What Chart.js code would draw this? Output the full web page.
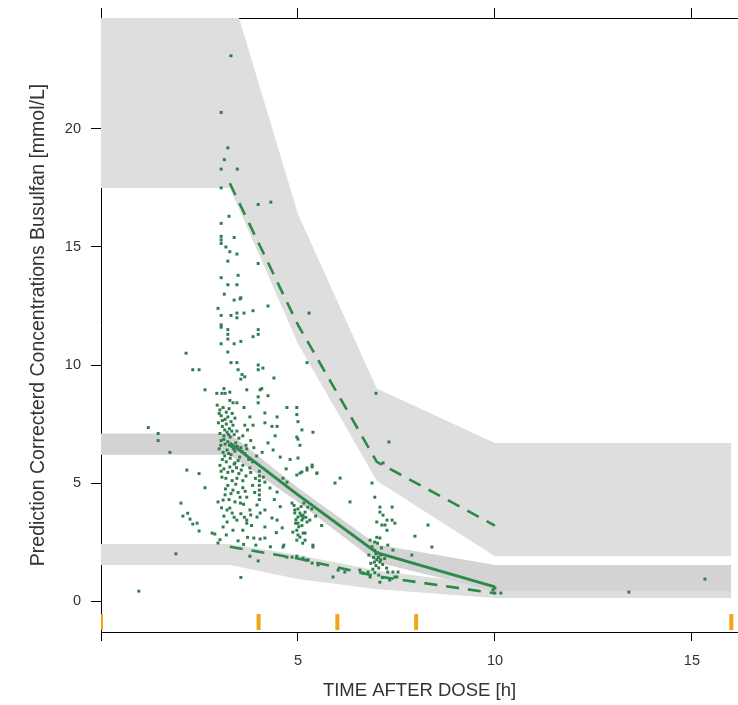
<!DOCTYPE html>
<html>
<head>
<meta charset="utf-8">
<script src="https://cdn.jsdelivr.net/npm/chart.js@4.4.0/dist/chart.umd.min.js"></script>
<style>
  html, body { margin: 0; padding: 0; background: #fff; }
  #wrap { width: 738px; height: 705px; }
</style>
</head>
<body>
<div id="wrap"><canvas id="vpc" width="738" height="705"></canvas></div>
<script>
// ---- VPC data ----
const binEdges = [0, 4, 6, 8, 16];
const binMid = [3.27, 5.0, 7.0, 10.0];

// observed percentiles (lines)
const obsP95 = [17.7, 11.7, 5.9, 3.2];
const obsP50 = [6.7, 4.5, 2.05, 0.6];
const obsP05 = [2.3, 1.8, 1.05, 0.33];

// simulated confidence intervals (grey bands)
const ciP95Hi = [26.0, 16.4, 9.0, 6.7];
const ciP95Lo = [17.5, 10.9, 5.1, 1.9];
const ciP50Hi = [7.1, 4.8, 2.4, 1.53];
const ciP50Lo = [6.2, 4.2, 1.65, 0.42];
const ciP05Hi = [2.42, 1.95, 1.3, 0.65];
const ciP05Lo = [1.53, 0.93, 0.5, 0.13];

const xTicks = [0, 5, 10, 15];
const yTicks = [0, 5, 10, 15, 20];

// prediction corrected observations [time, conc]
const observed = [
  [3.30,23.1],[3.05,20.7],[3.22,19.2],[3.13,18.7],[3.05,18.3],[3.46,18.3],[3.05,17.5],[3.99,16.8],
  [4.31,16.9],[3.25,16.3],[3.05,16.0],[3.05,15.45],[3.05,15.3],[3.38,15.4],[3.05,15.15],[3.17,15.0],
  [3.27,14.8],[3.45,14.7],[3.22,14.4],[3.99,14.3],[3.05,13.7],[3.48,13.8],[3.22,13.4],[3.45,13.4],
  [3.13,13.0],[3.53,12.8],[3.38,12.75],[3.55,12.85],[4.24,12.5],[5.28,12.2],[2.97,12.4],[3.05,12.1],
  [3.30,12.1],[3.45,12.2],[3.45,12.0],[3.63,12.2],[3.86,12.3],[3.05,11.7],[3.05,11.6],[3.22,11.5],
  [3.22,11.3],[3.22,11.1],[3.99,11.5],[3.99,11.3],[3.86,11.2],[3.05,10.9],[3.38,10.9],[3.55,11.0],
  [2.16,10.5],[3.22,10.55],[3.30,10.1],[3.45,10.1],[5.23,10.1],[3.99,10.0],[4.11,9.87],[3.99,9.8],
  [2.33,9.8],[2.49,9.8],[3.48,9.8],[3.58,9.6],[3.55,9.4],[3.65,9.5],[4.39,9.45],[2.64,8.95],
  [2.94,8.8],[3.07,8.8],[3.15,8.8],[3.12,9.0],[3.27,8.85],[3.70,8.95],[4.08,9.0],[4.04,8.95],
  [3.27,8.5],[3.35,8.4],[3.45,8.4],[3.99,8.65],[3.99,8.4],[4.24,8.7],[3.63,8.2],[6.98,8.8],
  [3.78,7.8],[4.16,7.97],[4.47,7.8],[4.72,8.2],[4.97,8.2],[4.97,7.9],[5.0,7.6],[3.65,7.45],
  [3.86,7.45],[4.16,7.55],[4.34,7.4],[4.47,7.4],[5.10,7.25],[5.38,7.15],[1.20,7.35],[1.45,7.1],
  [1.45,6.8],[1.75,6.3],[4.97,6.95],[5.0,6.86],[5.05,6.6],[4.24,6.7],[4.37,6.4],[4.42,7.0],
  [4.09,6.3],[7.31,6.74],[7.16,5.85],[5.0,6.06],[5.23,5.64],[5.36,5.76],[5.05,5.42],[5.48,5.42],
  [5.94,5.0],[6.07,5.21],[6.32,4.2],[6.88,5.0],
  [2.95,8.3],[3.02,8.1],[3.10,8.2],[3.18,8.0],[3.25,8.15],[3.33,7.95],[3.05,7.85],[3.15,7.7],
  [3.22,7.8],[3.30,7.6],[3.40,7.75],[2.98,7.55],[3.08,7.4],[3.18,7.5],[3.26,7.3],[3.35,7.45],
  [3.45,7.2],[3.02,7.1],[3.12,7.0],[3.20,7.15],[3.28,6.95],[3.38,7.05],[3.50,6.9],[3.60,7.0],
  [3.05,6.8],[3.15,6.65],[3.22,6.75],[3.32,6.55],[3.42,6.7],[3.55,6.5],[3.68,6.6],[3.00,6.45],
  [3.10,6.3],[3.20,6.4],[3.30,6.2],[3.40,6.35],[3.52,6.1],[3.65,6.25],[3.75,6.0],[3.08,6.0],
  [3.18,5.9],[3.28,6.05],[3.38,5.8],[3.48,5.95],[3.60,5.75],[3.85,5.9],[3.95,6.15],[3.88,6.5],
  [3.80,6.8],[3.72,7.25],
  [3.00,7.95],[3.08,7.65],[3.14,7.25],[3.24,7.05],[3.32,7.2],[3.12,6.85],[3.26,6.6],[3.36,6.45],
  [3.04,6.6],[3.14,6.15],[3.24,6.25],[3.46,6.55],[3.58,6.35],[3.70,6.45],[3.02,5.75],[3.12,5.6],
  [3.22,5.45],[3.34,5.5],[3.44,5.65],[3.56,5.55],[3.68,5.3],[3.80,5.45],[3.16,4.75],[3.30,4.55],
  [3.42,4.95],[3.54,4.15],[3.66,4.65],[3.06,3.95],[3.38,3.55],[3.20,3.35],[3.64,3.55],[3.80,3.65],
  [2.18,5.55],[2.49,5.4],[2.64,4.8],[2.03,4.15],[2.08,3.6],[2.20,3.72],[2.26,3.47],[2.33,3.26],
  [2.44,3.3],[2.49,2.97],[2.82,2.88],[2.89,2.84],[2.97,2.46],[1.90,2.0],[0.96,0.42],[3.55,1.0],
  [3.78,1.9],[3.99,1.7],
  [3.07,5.25],[3.17,5.2],[3.33,5.1],[3.45,5.2],[3.60,5.1],[3.22,4.9],[3.35,4.7],[3.48,4.6],
  [3.60,4.8],[2.97,4.2],[3.10,4.28],[3.20,3.86],[3.27,3.94],[3.33,3.73],[3.40,4.2],[3.53,4.4],
  [3.70,4.4],[3.45,3.43],[3.70,3.43],[3.70,3.3],[3.10,3.14],[3.35,3.0],[3.60,3.0],[3.88,2.67],
  [4.04,2.63],[4.16,2.67],[3.93,2.37],[3.27,5.68],[3.40,5.85],[3.78,5.64],[4.16,5.04],[4.29,4.79],
  [4.47,4.62],[3.78,3.86],[3.96,4.07],[4.04,3.73],[4.16,3.86],[3.96,3.56],[4.16,3.14],[4.34,3.52],
  [4.47,3.43],[4.02,5.5],[4.02,5.3],[4.02,5.1],[4.02,4.9],[4.02,4.7],[4.02,4.5],[4.02,4.3],
  [3.92,5.2],[4.12,5.25],[3.05,5.5],[3.15,4.5],[3.25,4.3],[3.50,5.4],[3.62,4.1],[3.85,4.9],
  [3.90,4.6],[3.12,3.6],[3.55,3.7],[3.82,3.2],[3.02,2.6],[3.18,2.8],[3.48,2.55],[3.62,2.4],
  [3.72,2.7],[4.30,2.3],[4.45,2.9],[4.60,3.1],[4.55,4.0],[4.40,4.3],[4.62,5.2],[4.70,5.6],
  [4.80,6.0],[4.55,6.1],
  [4.72,5.04],[4.97,5.34],[5.10,5.47],[5.23,5.55],[5.36,5.68],[5.48,5.42],[5.30,3.43],[5.13,3.52],
  [4.92,3.73],[5.0,3.3],[4.97,3.0],[5.13,2.88],[5.38,2.37],[4.64,2.37],[4.72,1.86],[4.97,1.9],
  [5.26,1.74],[4.85,4.15],[4.92,3.86],[5.0,3.56],[5.05,3.73],[5.13,3.64],[5.10,3.43],[5.23,3.35],
  [5.18,3.77],[5.25,3.98],[4.87,2.92],[4.97,2.58],[5.05,2.71],[5.18,2.88],[5.18,2.58],[4.62,2.29],
  [5.38,2.29],[4.85,1.86],[5.13,1.82],[5.23,1.74],[5.36,1.61],[5.51,1.53],[6.02,1.31],[6.19,1.23],
  [5.89,1.02],[6.65,1.19],[6.83,1.02],[5.08,4.0],[4.95,3.45],[5.02,3.15],[5.15,4.15],[5.35,3.9],
  [5.45,3.6],[5.60,3.2],[4.90,4.05],[5.00,3.9],[5.08,3.62],[5.20,3.55],[4.94,3.3],[5.10,3.2],
  [5.00,2.8],[5.12,2.45],
  [6.95,4.4],[7.08,3.98],[7.08,3.77],[7.26,3.43],[7.39,3.43],[7.46,3.3],[7.13,3.22],[7.26,3.0],
  [7.0,3.35],[7.0,2.7],[7.08,2.67],[6.95,2.5],[6.83,2.58],[7.08,0.8],[7.28,1.23],[7.54,1.23],
  [7.46,1.02],[7.33,0.89],[7.28,2.37],[7.41,2.16],[6.57,1.31],[6.78,1.23],[7.39,3.98],[7.16,3.64],
  [7.21,3.22],[8.30,3.22],[7.97,2.75],[8.40,2.29],[7.89,1.95],[7.51,1.02],[7.41,1.23],
  [6.88,2.3],[6.95,2.15],[7.02,2.05],[7.10,1.95],[6.92,1.85],[7.0,1.75],[7.08,1.65],[6.85,1.6],
  [6.98,1.5],[7.05,1.4],[7.15,1.55],[6.90,1.35],[7.20,1.8],[7.02,2.45],[7.12,2.25],[6.80,1.95],
  [7.25,1.4],[6.95,1.2],[7.05,1.1],[7.15,1.0],[6.98,2.0],[7.04,1.85],[6.94,1.65],[7.10,1.75],
  [9.95,0.47],[10.0,0.34],[10.15,0.34],[10.0,0.55],[13.4,0.38],[15.33,0.93]
];

// ---- styling ----
const FONT = 'Liberation Sans, Arial, sans-serif';
const GREEN_LINE = '#2a8a48';
const GREEN_PT = '#2f7d4e';
const BAND_OUTER = '#dedede';
const BAND_MID = '#d3d3d3';
const RUG = '#f2a51a';
const RUG_Y = -0.89;

// extend summary nodes flat to the edges of the binning range
const bandX = [binEdges[0], ...binMid, binEdges[binEdges.length - 1]];
const toEdge = vals => {
    const ext = [vals[0], ...vals, vals[vals.length - 1]];
    return bandX.map((x, i) => ({ x, y: ext[i] }));
};
const toLine = vals => binMid.map((x, i) => ({ x, y: vals[i] }));

const bandPair = (hi, lo, color) => [
    { type: 'line', data: toEdge(hi), borderWidth: 0, pointRadius: 0, fill: false, order: 2 },
    { type: 'line', data: toEdge(lo), borderWidth: 0, pointRadius: 0, fill: '-1', backgroundColor: color, order: 2 }
];

const pctLine = (vals, dash, width) => ({
    type: 'line',
    data: toLine(vals),
    borderColor: GREEN_LINE,
    borderWidth: width,
    borderDash: dash,
    pointRadius: 0,
    tension: 0,
    fill: false,
    order: 0
});

// fixed box sizes so the plot frame lands where the original has it
const noPad = s => { s.paddingLeft = 0; s.paddingRight = 0; s.paddingTop = 0; s.paddingBottom = 0; };

const ctx = document.getElementById('vpc').getContext('2d');

new Chart(ctx, {
    type: 'scatter',
    data: {
        datasets: [
            ...bandPair(ciP95Hi, ciP95Lo, BAND_OUTER),
            ...bandPair(ciP50Hi, ciP50Lo, BAND_MID),
            ...bandPair(ciP05Hi, ciP05Lo, BAND_OUTER),
            {
                type: 'scatter',
                data: observed.map(([x, y]) => ({ x, y })),
                pointStyle: 'rect',
                pointRadius: 2.1,
                pointBorderWidth: 0,
                pointBackgroundColor: GREEN_PT,
                order: 1
            },
            pctLine(obsP95, [13, 9], 2.6),
            pctLine(obsP50, [], 3),
            pctLine(obsP05, [13, 9], 2.6),
            {
                type: 'scatter',
                data: binEdges.map(x => ({ x, y: RUG_Y })),
                pointStyle: 'line',
                pointRotation: 90,
                pointRadius: 8,
                pointBorderWidth: 4,
                pointBorderColor: RUG,
                order: 0
            }
        ]
    },
    options: {
        responsive: false,
        animation: false,
        events: [],
        layout: { padding: 0, autoPadding: false },
        plugins: {
            legend: { display: false },
            tooltip: { enabled: false },
            filler: { drawTime: 'beforeDatasetsDraw' }
        },
        scales: {
            x: {
                type: 'linear',
                position: 'bottom',
                min: 0,
                max: 16.17,
                afterBuildTicks: s => { s.ticks = xTicks.map(v => ({ value: v })); },
                afterFit: s => { s.height = 73; noPad(s); },
                grid: { drawOnChartArea: false, drawTicks: true, tickLength: 9, color: '#000', lineWidth: 1 },
                border: { display: true, color: '#000', width: 1 },
                ticks: {
                    color: '#333',
                    font: { family: FONT, size: 14.5 },
                    padding: 11,
                    maxRotation: 0,
                    autoSkip: false,
                    callback: v => (v === 0 ? '' : v)
                },
                title: {
                    display: true,
                    text: 'TIME AFTER DOSE [h]',
                    color: '#333',
                    font: { family: FONT, size: 18.5 },
                    padding: { top: 0, bottom: 3 }
                }
            },
            xTop: {
                type: 'linear',
                position: 'top',
                min: 0,
                max: 16.17,
                afterBuildTicks: s => { s.ticks = xTicks.map(v => ({ value: v })); },
                afterFit: s => { s.height = 18; noPad(s); },
                grid: { drawOnChartArea: false, drawTicks: true, tickLength: 10, color: '#000', lineWidth: 1 },
                border: { display: true, color: '#000', width: 1 },
                ticks: { display: false }
            },
            y: {
                type: 'linear',
                position: 'left',
                min: -1.31,
                max: 24.7,
                afterBuildTicks: s => { s.ticks = yTicks.map(v => ({ value: v })); },
                afterFit: s => { s.width = 101; noPad(s); },
                grid: { drawOnChartArea: false, drawTicks: true, tickLength: 10, color: '#000', lineWidth: 1 },
                border: { display: true, color: '#000', width: 1 },
                ticks: { color: '#333', font: { family: FONT, size: 14.5 }, padding: 10 },
                title: {
                    display: true,
                    text: 'Prediction Correcterd Concentrations Busulfan [mmol/L]',
                    color: '#333',
                    font: { family: FONT, size: 19.5 },
                    padding: { top: 27, bottom: 0 }
                }
            }
        }
    }
});
</script>
</body>
</html>
